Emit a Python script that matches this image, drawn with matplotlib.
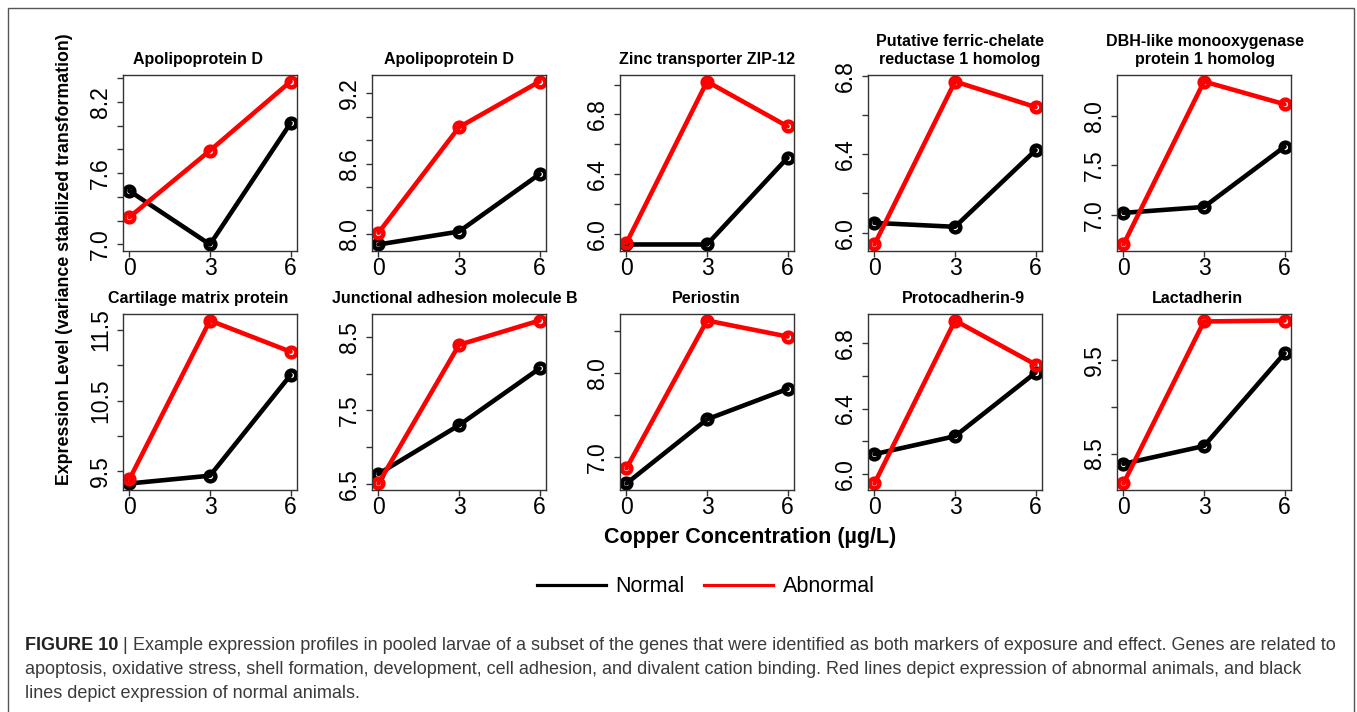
import matplotlib
matplotlib.use("Agg")
import matplotlib.pyplot as plt
import matplotlib.patches as mpatches
from matplotlib.lines import Line2D
from matplotlib.ticker import MultipleLocator, FuncFormatter

plt.rcParams['font.family'] = ['Liberation Sans', 'DejaVu Sans']

# copper concentration (x) for every panel
conc = [0, 3, 6]

titles = ['Apolipoprotein D', 'Apolipoprotein D', 'Zinc transporter ZIP-12',
          'Putative ferric-chelate\nreductase 1 homolog',
          'DBH-like monooxygenase\nprotein 1 homolog',
          'Cartilage matrix protein', 'Junctional adhesion molecule B',
          'Periostin', 'Protocadherin-9', 'Lactadherin']

# expression values
normal = [[7.45, 7.00, 8.02], [7.91, 8.02, 8.51], [5.93, 5.93, 6.51],
          [6.05, 6.03, 6.42], [7.02, 7.08, 7.69], [9.33, 9.44, 10.86],
          [6.64, 7.30, 8.07], [6.69, 7.45, 7.81], [6.12, 6.23, 6.62],
          [8.39, 8.58, 9.57]]
abnormal = [[7.23, 7.79, 8.37], [8.01, 8.91, 9.30], [5.94, 7.02, 6.72],
            [5.94, 6.77, 6.64], [6.70, 8.35, 8.12], [9.39, 11.63, 11.19],
            [6.51, 8.39, 8.72], [6.87, 8.62, 8.43], [5.94, 6.94, 6.67],
            [8.18, 9.91, 9.92]]

# y tick spacing and which tick labels R kept
tick_step = [0.2, 0.2, 0.2, 0.2, 0.5, 0.5, 0.5, 0.5, 0.2, 0.5]
ytick_labels = [['7.0', '7.6', '8.2'], ['8.0', '8.6', '9.2'], ['6.0', '6.4', '6.8'],
                ['6.0', '6.4', '6.8'], ['7.0', '7.5', '8.0'], ['9.5', '10.5', '11.5'],
                ['6.5', '7.5', '8.5'], ['7.0', '8.0'], ['6.0', '6.4', '6.8'],
                ['8.5', '9.5']]
xtick_labels = ['0', '3', '6']

caption_lines = [
    'Example expression profiles in pooled larvae of a subset of the genes that were identified as both markers of exposure and effect. Genes are related to',
    'apoptosis, oxidative stress, shell formation, development, cell adhesion, and divalent cation binding. Red lines depict expression of abnormal animals, and black',
    'lines depict expression of normal animals.',
]

W, H = 1357, 712
fig = plt.figure(figsize=(W / 100, H / 100), dpi=100)


def px_axes(left, top, w, h):
    return fig.add_axes([left / W, 1 - (top + h) / H, w / W, h / H])


lefts = [123, 372, 620, 868, 1117]
tops = [75, 314]
title_dx = [-12, -10, 0, 5, 1, -12, -4, -1, 8, -7]  # R titles sit a bit off-centre
axw, axh = 174, 176
tick_col = '#333333'

for i in range(10):
    ax = px_axes(lefts[i % 5], tops[i // 5], axw, axh)
    ax.plot(conc, normal[i], color='black', lw=3.3, marker='o', ms=7,
            mfc='none', mew=3.2, solid_capstyle='round')
    ax.plot(conc, abnormal[i], color='#ff0000', lw=3.3, marker='o', ms=7,
            mfc='none', mew=3.2, solid_capstyle='round')
    ax.margins(x=0.04, y=0.04)

    ax.set_xticks(conc)
    ax.set_xticklabels(xtick_labels)
    shown = ytick_labels[i]
    ax.yaxis.set_major_locator(MultipleLocator(tick_step[i]))
    ax.yaxis.set_major_formatter(FuncFormatter(
        lambda v, p, shown=shown: f'{v:.1f}' if f'{v:.1f}' in shown else ''))

    ax.tick_params(direction='out', length=4.3, width=1, color=tick_col,
                   labelsize=16.5, labelcolor='black')
    ax.tick_params(axis='x', pad=0)
    ax.tick_params(axis='y', pad=3.5, labelrotation=90)
    for lab in ax.get_yticklabels():
        lab.set_va('center')
    for sp in ax.spines.values():
        sp.set_color(tick_col)
        sp.set_linewidth(1)

    ax.set_title(titles[i], fontsize=11.5, fontweight='bold', pad=8,
                 x=0.5 + title_dx[i] / axw, linespacing=1.2)

# shared labels
fig.text(65 / W, 1 - 259 / H, 'Expression Level (variance stabilized transformation)',
         rotation=90, ha='center', va='center', fontsize=12.8, fontweight='bold')
fig.text(750 / W, 1 - 537 / H, 'Copper Concentration (µg/L)',
         ha='center', va='center', fontsize=15.5, fontweight='bold')

handles = [Line2D([], [], color='black', lw=2.3), Line2D([], [], color='#ff0000', lw=2.3)]
fig.legend(handles, ['Normal', 'Abnormal'], ncol=2, frameon=False, loc='center',
           bbox_to_anchor=(706 / W, 1 - 587 / H), fontsize=15.5,
           handlelength=3.2, handletextpad=0.45, columnspacing=0.9)

# caption, scaled so the first line spans the same width as in the figure
renderer = fig.canvas.get_renderer()
cap_col = '#3a3a3a'
x0, target_w = 25, 1313
probe = fig.text(0, 0, 'FIGURE 10 | ' + caption_lines[0], fontsize=12)
cap_fs = 12 * target_w / probe.get_window_extent(renderer).width
probe.remove()

head = fig.text(x0 / W, 1 - 646 / H, 'FIGURE 10', fontsize=cap_fs, fontweight='bold',
                color='#222222', va='center')
hx = head.get_window_extent(renderer).x1
bar = fig.text(hx / W, 1 - 646 / H, ' | ', fontsize=cap_fs, color=cap_col, va='center')
bx = bar.get_window_extent(renderer).x1
fig.text(bx / W, 1 - 646 / H, caption_lines[0], fontsize=cap_fs, color=cap_col, va='center')
fig.text(x0 / W, 1 - 670 / H, caption_lines[1], fontsize=cap_fs, color=cap_col, va='center')
fig.text(x0 / W, 1 - 694 / H, caption_lines[2], fontsize=cap_fs, color=cap_col, va='center')

# outer frame (open at the bottom where the image is cut)
frame = mpatches.Rectangle((8 / W, -0.02), (1354 - 8) / W, 1.02 - 8 / H,
                           transform=fig.transFigure, fill=False,
                           edgecolor='#555555', lw=1, clip_on=False)
fig.patches.append(frame)

fig.savefig('out.png', dpi=100)
